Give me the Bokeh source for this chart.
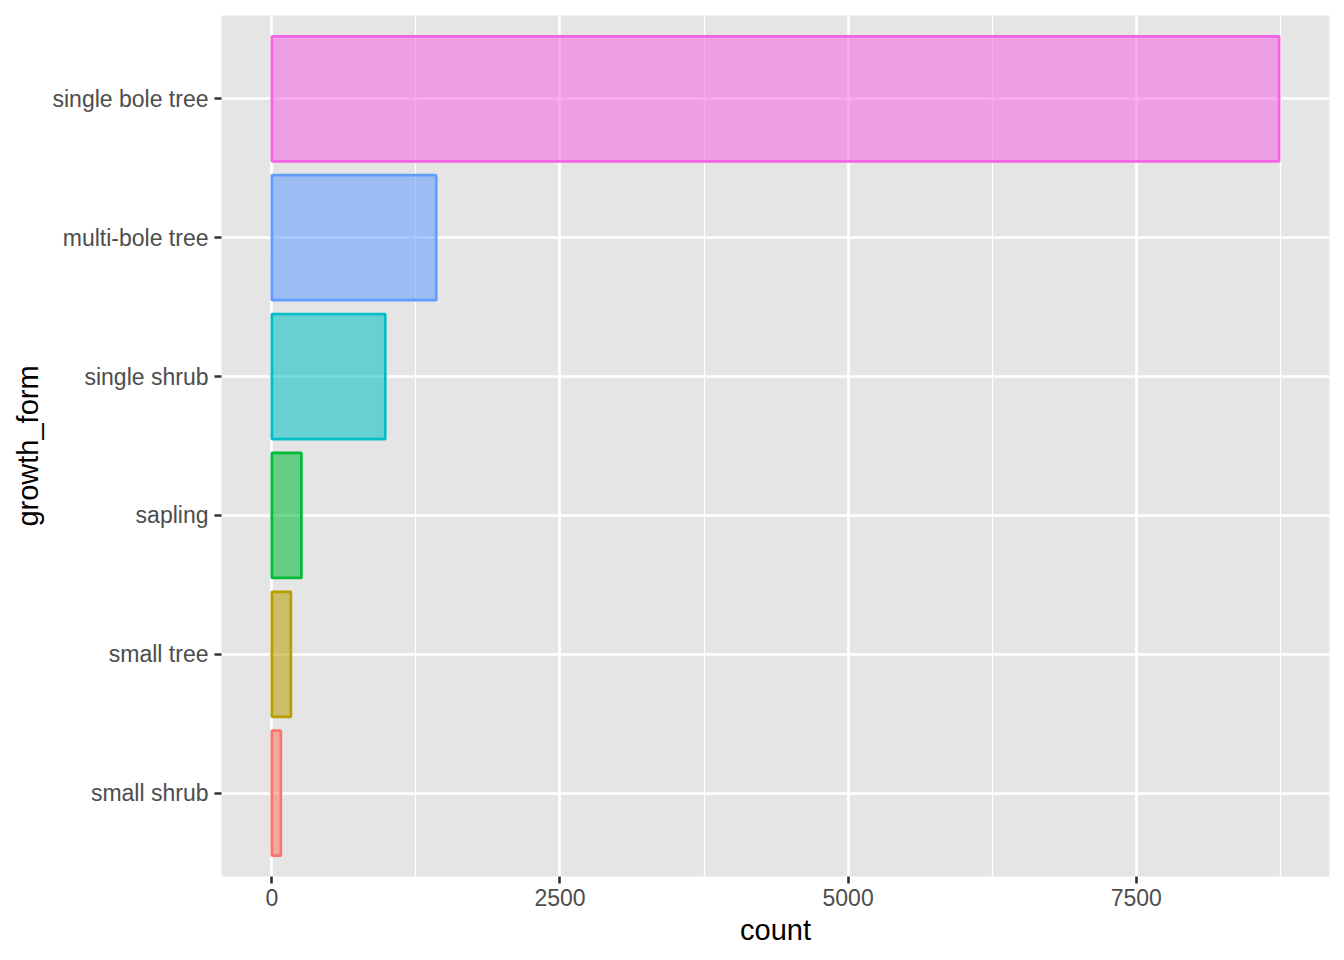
from bokeh.plotting import figure
from bokeh.models import ColumnDataSource, FactorRange, Range1d, SingleIntervalTicker
from bokeh.embed import file_html
from bokeh.resources import INLINE

categories = ["small shrub", "small tree", "sapling", "single shrub", "multi-bole tree", "single bole tree"]
counts = [78, 165, 256, 984, 1426, 8740]
colors = ["#F8766D", "#B79F00", "#00BA38", "#00BFC4", "#619CFF", "#F564E3"]

src = ColumnDataSource(dict(cat=categories, count=counts, color=colors))

FONT = "Liberation Sans"

p = figure(width=1344, height=960, output_backend="svg", toolbar_location=None,
           y_range=FactorRange(factors=categories, range_padding=0.1, range_padding_units="absolute"),
           x_range=Range1d(-437, 9177),
           min_border_left=221, min_border_right=15, min_border_top=15, min_border_bottom=84)

p.hbar(y="cat", left=0, right="count", height=0.9, source=src,
       fill_color="color", fill_alpha=0.55, line_color="color", line_width=2.7)

p.background_fill_color = "#E5E5E5"
p.border_fill_color = "white"
p.outline_line_color = None

p.xaxis.ticker = SingleIntervalTicker(interval=2500, num_minor_ticks=2)
p.xgrid.ticker = p.xaxis.ticker
p.xgrid.grid_line_color = "white"
p.xgrid.grid_line_width = 2.6
p.xgrid.minor_grid_line_color = "white"
p.xgrid.minor_grid_line_width = 1.3
p.ygrid.grid_line_color = "white"
p.ygrid.grid_line_width = 2.6

for ax in (p.xaxis, p.yaxis):
    ax.axis_line_color = None
    ax.major_tick_in = 0
    ax.major_tick_out = 7
    ax.major_tick_line_color = "#333333"
    ax.major_tick_line_width = 2.6
    ax.minor_tick_line_color = None
    ax.major_label_text_font = FONT
    ax.major_label_text_font_size = "23px"
    ax.major_label_text_color = "#4D4D4D"
    ax.axis_label_text_font = FONT
    ax.axis_label_text_font_size = "29px"
    ax.axis_label_text_font_style = "normal"
    ax.axis_label_text_color = "black"

p.xaxis.axis_label = "count"
p.yaxis.axis_label = "growth_form"
p.xaxis.major_label_standoff = 5
p.xaxis.axis_label_standoff = 5
p.yaxis.major_label_standoff = 6
p.yaxis.axis_label_standoff = 6

open("out.html", "w").write(file_html(p, INLINE))
